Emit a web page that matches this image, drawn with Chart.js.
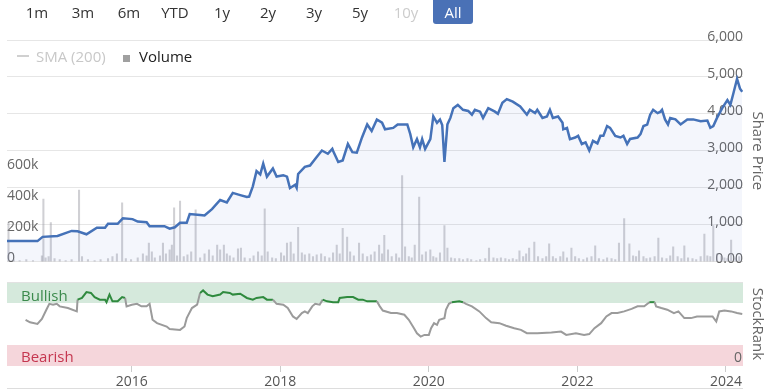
<!DOCTYPE html>
<html>
<head>
<meta charset="utf-8">
<script src="https://cdn.jsdelivr.net/npm/chart.js@4/dist/chart.umd.min.js"></script>
<style>
  body { margin: 0; background: #fff; font-family: "Open Sans", sans-serif; }
  #wrap { position: relative; width: 768px; height: 391px; overflow: hidden; }
  .rng { position: absolute; top: 0; width: 44px; height: 24px; line-height: 24px; text-align: center; font-size: 15px; color: #333; z-index: 2; }
  .rng.off { color: #ccc; }
  .rng.on { background: #4a71b6; color: #fff; border-radius: 0 0 3px 3px; width: 40px; }
  #legend { position: absolute; left: 17px; top: 46px; font-size: 15px; height: 20px; line-height: 20px; z-index: 2; }
  #legend span { position: absolute; white-space: nowrap; }
  canvas { position: absolute; left: 0; }
  #bottomLine { position: absolute; left: 7px; top: 388px; width: 736px; height: 1px; background: #ddd; }
</style>
</head>
<body>
<div id="wrap">
  <canvas id="mainChart" width="768" height="250" style="top:20px"></canvas>
  <canvas id="rankChart" width="768" height="121" style="top:270px"></canvas>
  <div class="rng" style="left:15px">1m</div>
  <div class="rng" style="left:61px">3m</div>
  <div class="rng" style="left:107px">6m</div>
  <div class="rng" style="left:153px">YTD</div>
  <div class="rng" style="left:200px">1y</div>
  <div class="rng" style="left:246px">2y</div>
  <div class="rng" style="left:292px">3y</div>
  <div class="rng" style="left:338px">5y</div>
  <div class="rng off" style="left:384px">10y</div>
  <div class="rng on" style="left:433px">All</div>
  <div id="legend">
    <span style="left:0;top:9px;width:12px;height:2px;background:#d0d0d0"></span>
    <span style="left:19px;color:#c8c8c8">SMA (200)</span>
    <span style="left:106px;top:9px;width:7px;height:7px;background:#a0a0a0"></span>
    <span style="left:122px;color:#222">Volume</span>
  </div>
  <div id="bottomLine"></div>
</div>
<script>
// ============================================================
// DATOS
// ============================================================
const xMin = 2014.32, xMax = 2024.23;
const yearTicks   = [2016, 2018, 2020, 2022, 2024];
const priceTicks  = [0, 1000, 2000, 3000, 4000, 5000, 6000];
const volumeTicks = [0, 200, 400, 600]; // miles

const priceDates = [
  2014.32, 2014.73, 2014.80, 2015.00, 2015.19, 2015.27, 2015.39, 2015.53, 2015.64, 2015.68,
  2015.81, 2015.88, 2016.01, 2016.08, 2016.20, 2016.24, 2016.44, 2016.51, 2016.58, 2016.65,
  2016.74, 2016.78, 2016.92, 2016.98, 2017.08, 2017.19, 2017.28, 2017.36, 2017.46, 2017.55,
  2017.58, 2017.63, 2017.68, 2017.73, 2017.77, 2017.82, 2017.90, 2017.95, 2018.04, 2018.09,
  2018.13, 2018.20, 2018.22, 2018.24, 2018.33, 2018.40, 2018.49, 2018.56, 2018.64, 2018.70,
  2018.71, 2018.78, 2018.84, 2018.91, 2018.97, 2019.03, 2019.10, 2019.17, 2019.23, 2019.30,
  2019.37, 2019.41, 2019.52, 2019.58, 2019.71, 2019.75, 2019.79, 2019.84, 2019.88, 2019.91,
  2019.95, 2020.02, 2020.06, 2020.11, 2020.15, 2020.18, 2020.21, 2020.25, 2020.29, 2020.33,
  2020.39, 2020.46, 2020.53, 2020.58, 2020.62, 2020.69, 2020.73, 2020.80, 2020.89, 2020.93,
  2020.99, 2021.05, 2021.13, 2021.23, 2021.32, 2021.36, 2021.43, 2021.46, 2021.53, 2021.59,
  2021.63, 2021.67, 2021.74, 2021.80, 2021.81, 2021.86, 2021.90, 2021.97, 2022.01, 2022.06,
  2022.11, 2022.16, 2022.21, 2022.27, 2022.31, 2022.35, 2022.40, 2022.44, 2022.51, 2022.58,
  2022.62, 2022.67, 2022.71, 2022.81, 2022.85, 2022.89, 2022.94, 2022.98, 2023.02, 2023.08,
  2023.12, 2023.14, 2023.18, 2023.22, 2023.25, 2023.32, 2023.39, 2023.48, 2023.56, 2023.66,
  2023.75, 2023.79, 2023.83, 2023.88, 2023.95, 2024.02, 2024.06, 2024.10, 2024.15, 2024.19,
  2024.22
];
const priceValues = [
  555, 555, 670, 695, 830, 820, 740, 918, 918, 1024,
  1024, 1173, 1150, 1085, 1067, 960, 960, 890, 930, 1050,
  1050, 1288, 1260, 1250, 1420, 1667, 1600, 1860, 1800, 1750,
  1760, 2037, 2450, 2360, 2655, 2302, 2522, 2302, 2340, 2300,
  1993, 2082, 2000, 2373, 2567, 2600, 2831, 3008, 2920, 3052,
  3000, 2699, 2740, 3184, 2963, 2950, 3361, 3714, 3537, 3847,
  3760, 3582, 3620, 3714, 3714, 3450, 3096, 3317, 3096, 3317,
  3052, 3317, 3935, 3758, 3847, 3700, 2699, 3714, 3890, 4154,
  4242, 4110, 4080, 3978, 4110, 4060, 3890, 4154, 4060, 4000,
  4300, 4400, 4330, 4200, 3978, 4110, 4020, 4110, 3890, 3930,
  4110, 3890, 3930, 3758, 3582, 3620, 3317, 3360, 3405, 3184,
  3230, 3008, 3270, 3200, 3405, 3405, 3670, 3620, 3405, 3360,
  3405, 3184, 3320, 3360, 3450, 3670, 3710, 3978, 4110, 4020,
  4060, 4110, 3850, 3714, 3890, 3850, 3714, 3850, 3850, 3800,
  3820, 3625, 3670, 3890, 4154, 4375, 4242, 4551, 4949, 4684,
  4596
];

const volumeDates = [
  2014.34, 2014.41, 2014.49, 2014.58, 2014.67, 2014.79, 2014.81, 2014.84, 2014.88, 2014.91,
  2014.96, 2015.03, 2015.11, 2015.19, 2015.29, 2015.33, 2015.41, 2015.50, 2015.58, 2015.68,
  2015.74, 2015.80, 2015.87, 2015.92, 2015.99, 2016.08, 2016.15, 2016.20, 2016.23, 2016.27,
  2016.31, 2016.38, 2016.42, 2016.46, 2016.51, 2016.54, 2016.57, 2016.61, 2016.65, 2016.70,
  2016.75, 2016.80, 2016.86, 2016.92, 2016.98, 2017.04, 2017.09, 2017.15, 2017.19, 2017.24,
  2017.28, 2017.32, 2017.37, 2017.43, 2017.47, 2017.52, 2017.59, 2017.64, 2017.70, 2017.75,
  2017.79, 2017.83, 2017.89, 2017.94, 2018.01, 2018.05, 2018.09, 2018.14, 2018.18, 2018.24,
  2018.29, 2018.33, 2018.39, 2018.44, 2018.49, 2018.55, 2018.60, 2018.66, 2018.71, 2018.76,
  2018.80, 2018.84, 2018.90, 2018.94, 2018.99, 2019.06, 2019.11, 2019.17, 2019.22, 2019.27,
  2019.33, 2019.37, 2019.40, 2019.45, 2019.50, 2019.56, 2019.60, 2019.64, 2019.68, 2019.73,
  2019.77, 2019.81, 2019.87, 2019.91, 2019.96, 2020.02, 2020.06, 2020.10, 2020.15, 2020.21,
  2020.25, 2020.30, 2020.35, 2020.41, 2020.46, 2020.52, 2020.57, 2020.64, 2020.69, 2020.76,
  2020.81, 2020.87, 2020.92, 2020.97, 2021.03, 2021.08, 2021.13, 2021.18, 2021.22, 2021.27,
  2021.31, 2021.35, 2021.42, 2021.47, 2021.53, 2021.58, 2021.62, 2021.67, 2021.71, 2021.77,
  2021.81, 2021.86, 2021.92, 2021.97, 2022.02, 2022.08, 2022.13, 2022.19, 2022.24, 2022.29,
  2022.35, 2022.40, 2022.46, 2022.51, 2022.56, 2022.63, 2022.70, 2022.75, 2022.79, 2022.83,
  2022.89, 2022.93, 2022.98, 2023.04, 2023.09, 2023.14, 2023.20, 2023.25, 2023.29, 2023.35,
  2023.40, 2023.44, 2023.49, 2023.55, 2023.60, 2023.66, 2023.71, 2023.75, 2023.79, 2023.83,
  2023.88, 2023.94, 2023.98, 2024.02, 2024.07, 2024.13, 2024.18
];
const volumeValues = [ // miles de acciones
  252, 13, 6, 13, 6, 38, 404, 25, 32, 252,
  19, 13, 6, 13, 461, 32, 13, 6, 13, 19,
  32, 50, 379, 19, 13, 25, 50, 38, 120, 63,
  25, 38, 120, 50, 76, 107, 347, 38, 391, 32,
  44, 63, 334, 25, 50, 76, 38, 107, 76, 107,
  50, 38, 25, 82, 88, 25, 19, 38, 63, 38,
  341, 63, 25, 19, 57, 38, 120, 126, 50, 221,
  57, 44, 50, 32, 44, 50, 32, 25, 57, 107,
  50, 215, 158, 63, 38, 120, 50, 32, 44, 63,
  107, 50, 170, 76, 32, 50, 25, 555, 95, 32,
  25, 107, 416, 44, 63, 76, 32, 25, 57, 233,
  88, 25, 19, 19, 13, 19, 13, 6, 13, 19,
  88, 25, 19, 25, 19, 13, 19, 13, 69, 32,
  50, 88, 126, 32, 19, 32, 114, 32, 19, 32,
  63, 25, 88, 32, 19, 13, 25, 32, 101, 19,
  13, 25, 19, 13, 120, 278, 114, 38, 32, 69,
  32, 19, 25, 32, 151, 25, 19, 38, 95, 32,
  19, 101, 25, 19, 13, 32, 177, 38, 32, 233,
  50, 38, 25, 19, 139, 25, 32
];

const rankDates = [
  2014.57, 2014.63, 2014.73, 2014.79, 2014.85, 2014.89, 2014.94, 2014.99, 2015.03, 2015.14,
  2015.26, 2015.27, 2015.33, 2015.39, 2015.45, 2015.50, 2015.57, 2015.64, 2015.66, 2015.70,
  2015.74, 2015.81, 2015.87, 2015.91, 2015.93, 2016.00, 2016.07, 2016.13, 2016.20, 2016.24,
  2016.28, 2016.34, 2016.47, 2016.51, 2016.65, 2016.71, 2016.74, 2016.81, 2016.88, 2016.92,
  2016.96, 2017.02, 2017.09, 2017.19, 2017.23, 2017.32, 2017.36, 2017.46, 2017.55, 2017.63,
  2017.68, 2017.77, 2017.82, 2017.90, 2017.95, 2018.04, 2018.10, 2018.17, 2018.22, 2018.29,
  2018.33, 2018.37, 2018.43, 2018.47, 2018.53, 2018.57, 2018.63, 2018.71, 2018.78, 2018.80,
  2018.90, 2018.98, 2019.05, 2019.11, 2019.17, 2019.30, 2019.34, 2019.38, 2019.49, 2019.57,
  2019.67, 2019.73, 2019.80, 2019.84, 2019.89, 2019.94, 2020.00, 2020.03, 2020.07, 2020.11,
  2020.14, 2020.21, 2020.23, 2020.27, 2020.31, 2020.41, 2020.46, 2020.50, 2020.58, 2020.68,
  2020.77, 2020.84, 2020.95, 2021.04, 2021.15, 2021.24, 2021.32, 2021.46, 2021.65, 2021.78,
  2021.85, 2021.98, 2022.09, 2022.16, 2022.23, 2022.32, 2022.39, 2022.46, 2022.54, 2022.63,
  2022.73, 2022.81, 2022.90, 2022.97, 2023.04, 2023.06, 2023.13, 2023.21, 2023.30, 2023.36,
  2023.44, 2023.53, 2023.61, 2023.71, 2023.82, 2023.87, 2023.91, 2023.98, 2024.07, 2024.15,
  2024.22
];
const rankValues = [
  55, 52, 50, 56, 67, 74, 73, 74, 71, 69,
  65, 79, 81, 88, 87, 82, 79, 79, 76, 85,
  77, 77, 82, 81, 71, 73, 74, 71, 71, 74,
  55, 51, 47, 44, 43, 47, 57, 69, 73, 87,
  90, 85, 83, 85, 88, 87, 85, 86, 81, 79,
  81, 82, 79, 79, 74, 73, 69, 59, 56, 63,
  65, 63, 71, 74, 73, 79, 77, 76, 76, 81,
  82, 82, 79, 79, 77, 77, 71, 66, 63, 63,
  61, 55, 45, 39, 35, 37, 37, 45, 51, 49,
  55, 57, 67, 74, 76, 77, 76, 74, 71, 65,
  57, 52, 51, 48, 45, 43, 39, 39, 40, 41,
  37, 39, 37, 38, 45, 51, 59, 63, 63, 65,
  68, 71, 71, 76, 76, 71, 69, 67, 63, 65,
  57, 57, 59, 59, 59, 53, 65, 66, 65, 63,
  62
];

// ============================================================
// CONFIGURACIÓN
// ============================================================
Chart.defaults.font.family = "'Open Sans', sans-serif";
Chart.defaults.animation = false;

const LINE_BLUE = "#4572b8";
const GRID = "#e6e6e6";
const LABEL = "#666";
const BULL_LEVEL = 75;

const pts = (xs, ys) => xs.map((x, i) => ({ x, y: ys[i] }));

new Chart(document.getElementById("mainChart"), {
  data: {
    datasets: [
      {
        type: "line",
        label: "Share Price",
        data: pts(priceDates, priceValues),
        yAxisID: "yPrice",
        borderColor: LINE_BLUE,
        borderWidth: 2.5,
        backgroundColor: "rgba(70,110,200,0.06)",
        fill: "origin",
        pointRadius: 0,
        tension: 0,
        order: 1,
      },
      {
        type: "bar",
        label: "Volume",
        data: pts(volumeDates, volumeValues),
        yAxisID: "yVol",
        backgroundColor: "rgba(150,150,160,0.45)",
        barThickness: 1.4,
        order: 2,
      },
    ],
  },
  options: {
    responsive: false,
    layout: { padding: { left: 7, top: 20, bottom: 3, right: 0 } },
    plugins: { legend: { display: false }, tooltip: { enabled: false } },
    scales: {
      x: { type: "linear", min: xMin, max: xMax, offset: false, display: false },
      yVol: {
        position: "left", min: 0, max: 1430,
        afterFit: s => { s.width = 0; },
        afterBuildTicks: s => { s.ticks = volumeTicks.map(v => ({ value: v })); },
        grid: { display: false }, border: { display: false },
        ticks: {
          mirror: true, padding: 0, labelOffset: -4, color: LABEL, font: { size: 14 },
          callback: v => v === 0 ? "0" : v + "k",
        },
      },
      yPrice: {
        position: "right", min: 0, max: 6000,
        afterFit: s => { s.width = 25; },
        afterBuildTicks: s => { s.ticks = priceTicks.map(v => ({ value: v })); },
        grid: { color: GRID, drawTicks: false }, border: { display: false },
        ticks: {
          mirror: true, padding: 0, labelOffset: -3, color: LABEL, font: { size: 14 },
          callback: v => v === 0 ? "0.00" : v.toLocaleString("en-US"),
        },
        title: { display: true, text: "Share Price", color: LABEL, font: { size: 15 }, padding: { top: 2, bottom: 0 } },
      },
    },
  },
});

// bandas Bullish / Bearish (antes de ejes y línea)
const bandsPlugin = {
  id: "bands",
  beforeDraw(chart) {
    const { ctx, chartArea: a, scales: { y } } = chart;
    ctx.save();
    ctx.fillStyle = "#d5e9dc";
    ctx.fillRect(a.left, y.getPixelForValue(100) + 1, a.width, y.getPixelForValue(BULL_LEVEL) - y.getPixelForValue(100) - 1);
    ctx.fillStyle = "#f5d6db";
    ctx.fillRect(a.left, y.getPixelForValue(25), a.width, y.getPixelForValue(0) - y.getPixelForValue(25));
    ctx.font = "15px 'Open Sans', sans-serif";
    ctx.textBaseline = "middle";
    ctx.fillStyle = "#3b8a4c";
    ctx.fillText("Bullish", a.left + 14, (y.getPixelForValue(100) + y.getPixelForValue(BULL_LEVEL)) / 2 + 4);
    ctx.fillStyle = "#c5364f";
    ctx.fillText("Bearish", a.left + 14, (y.getPixelForValue(25) + y.getPixelForValue(0)) / 2 + 2);
    ctx.restore();
  },
};

new Chart(document.getElementById("rankChart"), {
  type: "line",
  data: {
    datasets: [{
      label: "StockRank",
      data: pts(rankDates, rankValues),
      borderColor: "#999",
      borderWidth: 2,
      pointRadius: 0,
      tension: 0,
      segment: {
        borderColor: c => (c.p0.parsed.y >= BULL_LEVEL && c.p1.parsed.y >= BULL_LEVEL) ? "#2f8a3e" : "#9b9b9b",
      },
    }],
  },
  plugins: [bandsPlugin],
  options: {
    responsive: false,
    layout: { padding: { left: 7, top: 12, bottom: 0, right: 0 } },
    plugins: { legend: { display: false }, tooltip: { enabled: false } },
    scales: {
      x: {
        type: "linear", min: xMin, max: xMax, offset: false,
        afterFit: s => { s.height = 25; },
        afterBuildTicks: s => { s.ticks = yearTicks.map(v => ({ value: v })); },
        grid: { drawOnChartArea: false, tickLength: 6, tickColor: "#ccc" },
        border: { display: false },
        ticks: { color: "#555", font: { size: 14 }, padding: 2, maxRotation: 0, callback: v => String(v) },
      },
      y: {
        position: "right", min: 0, max: 100,
        afterFit: s => { s.width = 25; },
        afterBuildTicks: s => { s.ticks = [0, 100].map(v => ({ value: v })); },
        grid: { color: c => c.tick.value === 100 ? "#e2e2e2" : "rgba(0,0,0,0)", drawTicks: false },
        border: { display: false },
        ticks: {
          mirror: true, padding: -1, labelOffset: -8, color: LABEL, font: { size: 14 },
          callback: v => v === 0 ? "0" : "",
        },
        title: { display: true, text: "StockRank", color: LABEL, font: { size: 15 }, padding: { top: 2, bottom: 0 } },
      },
    },
  },
});
</script>
</body>
</html>
